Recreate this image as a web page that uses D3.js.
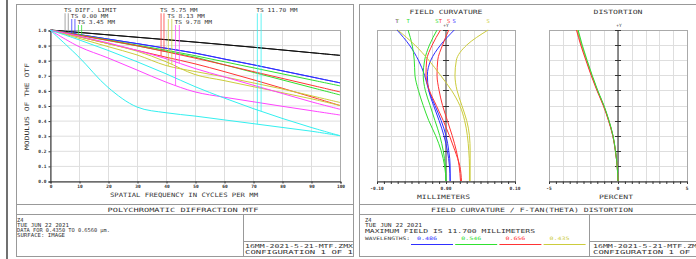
<!DOCTYPE html>
<html>
<head>
<meta charset="utf-8">
<script src="https://cdn.jsdelivr.net/npm/d3@7"></script>
<style>
  body { margin: 0; background: #fff; }
  text { font-family: "DejaVu Sans Mono", "Liberation Mono", monospace; fill: #333; }
</style>
</head>
<body>
<div id="chart"></div>
<script>
// ---- MTF data (cycles/mm vs modulus) ----
const mtfFreq = [0, 10, 20, 30, 40, 50, 60, 70, 80, 90, 100];
const mtfDiff = [1, 0.984, 0.968, 0.952, 0.936, 0.92, 0.903, 0.886, 0.868, 0.85, 0.832];
const mtf000T = [1, 0.97, 0.94, 0.91, 0.879, 0.847, 0.808, 0.77, 0.73, 0.69, 0.65];
const mtf000S = [1, 0.97, 0.94, 0.91, 0.879, 0.847, 0.808, 0.77, 0.73, 0.69, 0.65];
const mtf345T = [1, 0.968, 0.935, 0.90, 0.866, 0.83, 0.79, 0.75, 0.71, 0.67, 0.63];
const mtf345S = [1, 0.965, 0.93, 0.895, 0.858, 0.82, 0.77, 0.72, 0.67, 0.62, 0.57];
const mtf575T = [1, 0.955, 0.91, 0.865, 0.82, 0.776, 0.725, 0.671, 0.615, 0.558, 0.50];
const mtf575S = [1, 0.966, 0.932, 0.896, 0.856, 0.814, 0.77, 0.725, 0.68, 0.635, 0.59];
const mtf813T = [1, 0.945, 0.89, 0.835, 0.765, 0.725, 0.69, 0.65, 0.61, 0.565, 0.52];
const mtf813S = [1, 0.955, 0.91, 0.86, 0.79, 0.705, 0.665, 0.625, 0.585, 0.545, 0.50];
const mtf978T = [1, 0.89, 0.815, 0.735, 0.655, 0.59, 0.555, 0.525, 0.495, 0.466, 0.437];
const mtf978S = [1, 0.96, 0.915, 0.865, 0.81, 0.745, 0.69, 0.635, 0.58, 0.525, 0.475];
const mtf1170T = [1, 0.82, 0.62, 0.49, 0.452, 0.43, 0.405, 0.38, 0.355, 0.33, 0.30];
const mtf1170S = [1, 0.935, 0.865, 0.79, 0.71, 0.625, 0.55, 0.48, 0.415, 0.355, 0.30];
const mtfLabels = ["TS DIFF. LIMIT", "TS 0.00 MM", "TS 3.45 MM", "TS 5.75 MM", "TS 8.13 MM", "TS 9.78 MM", "TS 11.70 MM"];
const mtfLeaderFreq = [[5.2, 6.3], [7.5, 8.6], [9.8, 10.9], [38.3, 39.3], [40.8, 42.0], [43.3, 44.6], [71.5, 72.8]];
const mtfYTicks = [0, 0.1, 0.2, 0.3, 0.4, 0.5, 0.6, 0.7, 0.8, 0.9, 1.0];
const mtfXTicks = [0, 10, 20, 30, 40, 50, 60, 70, 80, 90, 100];

// ---- field curvature (mm) and distortion (%) vs field height ----
const fieldY = [0, 1.17, 2.34, 3.51, 4.68, 5.85, 7.02, 8.19, 9.36, 10.53, 11.7];
const fcBlueT = [0.006, 0.006, 0.004, 0.000, -0.007, -0.016, -0.025, -0.031, -0.040, -0.053, -0.071];
const fcBlueS = [0.006, 0.005, 0.002, -0.003, -0.010, -0.018, -0.025, -0.027, -0.022, -0.008, 0.012];
const fcGreenT = [0.000, -0.002, -0.007, -0.015, -0.025, -0.033, -0.040, -0.045, -0.046, -0.049, -0.055];
const fcGreenS = [0.000, -0.001, -0.004, -0.009, -0.016, -0.023, -0.030, -0.033, -0.031, -0.024, -0.013];
const fcRedT = [0.0225, 0.020, 0.013, 0.005, -0.004, -0.014, -0.024, -0.029, -0.028, -0.020, -0.008];
const fcRedS = [0.021, 0.019, 0.015, 0.009, 0.002, -0.005, -0.010, -0.013, -0.012, -0.005, 0.004];
const fcYellowT = [0.034, 0.034, 0.033, 0.031, 0.027, 0.020, 0.008, -0.008, -0.025, -0.045, -0.070];
const fcYellowS = [0.035, 0.035, 0.035, 0.034, 0.030, 0.023, 0.016, 0.013, 0.015, 0.030, 0.061];
const distBlue = [0, -0.06, -0.19, -0.37, -0.67, -1.04, -1.50, -1.91, -2.29, -2.65, -2.95];
const distYellow = [0, -0.06, -0.19, -0.37, -0.67, -1.04, -1.50, -1.91, -2.29, -2.65, -2.95];
const distRed = [0, -0.06, -0.19, -0.38, -0.69, -1.07, -1.53, -1.95, -2.33, -2.70, -3.01];
const distGreen = [0, -0.06, -0.18, -0.36, -0.65, -1.02, -1.47, -1.87, -2.24, -2.59, -2.89];
const wavelengths = ["0.486", "0.546", "0.656", "0.435"];
const fcTickLabels = ["-0.10", "0.00", "0.10"];
const distTickLabels = ["-5", "0", "5"];

const C = {blue: "#2f2fff", green: "#30e030", red: "#ff3434", yellow: "#cccc3c",
           magenta: "#ff44ff", cyan: "#33f0f0", black: "#111"};

const svg = d3.select("#chart").append("svg")
    .attr("width", 696).attr("height", 259);

function txt(g, str, x, y, o) {
    o = o || {};
    const t = g.append("text").attr("x", x).attr("y", y)
        .attr("font-size", o.size || 5.6)
        .attr("text-anchor", o.anchor || "start")
        .text(str);
    if (o.width) t.attr("textLength", o.width).attr("lengthAdjust", "spacingAndGlyphs");
    if (o.fill) t.style("fill", o.fill);
    if (o.bold) t.attr("font-weight", "bold");
    if (o.rotate) t.attr("transform", `rotate(${o.rotate},${x},${y})`);
    return t;
}
function hline(g, x1, x2, y, col, w) {
    g.append("line").attr("x1", x1).attr("x2", x2).attr("y1", y).attr("y2", y)
        .attr("stroke", col || "#999").attr("stroke-width", w || 1);
}
function vline(g, x, y1, y2, col, w) {
    g.append("line").attr("x1", x).attr("x2", x).attr("y1", y1).attr("y2", y2)
        .attr("stroke", col || "#999").attr("stroke-width", w || 1);
}
function interp(xs, ys, x) {
    let i = 0;
    while (i < xs.length - 2 && x > xs[i + 1]) i++;
    const t = (x - xs[i]) / (xs[i + 1] - xs[i]);
    return ys[i] + t * (ys[i + 1] - ys[i]);
}

// ---- frames ----
vline(svg, 7, 0, 259, "#111", 1.2);
svg.append("rect").attr("x", 16.5).attr("y", 4.5).attr("width", 337).attr("height", 252)
    .attr("fill", "none").attr("stroke", "#999");
svg.append("rect").attr("x", 359.5).attr("y", 4.5).attr("width", 345).attr("height", 252)
    .attr("fill", "none").attr("stroke", "#999");

// ================= MTF =================
const mx = d3.scaleLinear().domain([0, 100]).range([50, 340]);
const my = d3.scaleLinear().domain([0, 1]).range([181, 30]);
const gm = svg.append("g");

mtfXTicks.forEach(v => vline(gm, mx(v) + 0.5, 30, 181, "#dedede"));
mtfYTicks.forEach(v => hline(gm, 50, 340, my(v) + 0.5, "#dedede"));
gm.append("rect").attr("x", 50.5).attr("y", 30.5).attr("width", 290).attr("height", 151)
    .attr("fill", "none").attr("stroke", "#aaa");

const yAx = gm.append("g").attr("transform", "translate(50.5,0.5)")
    .call(d3.axisLeft(my).tickValues(mtfYTicks).tickSize(2).tickFormat(d3.format(".1f")));
const xAx = gm.append("g").attr("transform", "translate(0.5,181.5)")
    .call(d3.axisBottom(mx).tickValues(mtfXTicks).tickSize(2));
[yAx, xAx].forEach(a => {
    a.select(".domain").attr("stroke", "#333");
    a.selectAll(".tick line").attr("stroke", "#333");
    a.selectAll("text").attr("font-size", 4.5).attr("font-weight", "bold")
        .attr("font-family", "DejaVu Sans Mono").style("fill", "#333");
});
yAx.selectAll("text").attr("x", -4);
xAx.selectAll("text").attr("y", 3);

const mtfSeries = [
    {t: mtfDiff, s: mtfDiff, color: C.black},
    {t: mtf000T, s: mtf000S, color: C.blue},
    {t: mtf345T, s: mtf345S, color: C.green},
    {t: mtf575T, s: mtf575S, color: C.red},
    {t: mtf813T, s: mtf813S, color: C.yellow},
    {t: mtf978T, s: mtf978S, color: C.magenta},
    {t: mtf1170T, s: mtf1170S, color: C.cyan}
];
const mLine = d3.line().x((d, i) => mx(mtfFreq[i])).y(d => my(d)).curve(d3.curveCatmullRom);
mtfSeries.forEach(s => {
    [s.t, s.s].forEach(vals => {
        gm.append("path").datum(vals).attr("d", mLine)
            .attr("fill", "none").attr("stroke", s.color).attr("stroke-width", 1);
    });
});

// field labels with leader lines
const rowBase = [12.3, 18, 24];
mtfSeries.forEach((s, i) => {
    const row = i % 3;
    const f = mtfLeaderFreq[i];
    const lc = i === 0 ? "#888" : s.color;
    [s.t, s.s].forEach((vals, k) => {
        gm.append("line")
            .attr("x1", mx(f[k])).attr("x2", mx(f[k]))
            .attr("y1", rowBase[row] + 1).attr("y2", my(interp(mtfFreq, vals, f[k])))
            .attr("stroke", lc).attr("stroke-width", 1).attr("opacity", 0.75);
    });
    txt(gm, mtfLabels[i], mx(f[0]) - 1, rowBase[row],
        {size: 5.5, width: mtfLabels[i].length * 3.75});
});

txt(gm, "SPATIAL FREQUENCY IN CYCLES PER MM", 184, 196.5, {size: 6, anchor: "middle", width: 148});
txt(gm, "MODULUS OF THE OTF", 29, 106.5, {size: 6, anchor: "middle", width: 87, rotate: -90});

// bottom boxes (left)
hline(svg, 16, 354, 204.5);
hline(svg, 16, 354, 214.5);
txt(svg, "POLYCHROMATIC DIFFRACTION MTF", 183, 211.8, {size: 5.8, anchor: "middle", width: 151});
txt(svg, "Z4", 17, 222, {size: 5.4});
txt(svg, "TUE JUN 22 2021", 17, 227, {size: 5.4, width: 52});
txt(svg, "DATA FOR 0.4350 TO 0.6560 \u00b5m.", 17, 232, {size: 5.4, width: 93});
txt(svg, "SURFACE: IMAGE", 17, 237, {size: 5.4, width: 48});
vline(svg, 243.5, 214.5, 256.5);
hline(svg, 243.5, 354, 241.5);
txt(svg, "16MM-2021-5-21-MTF.ZMX", 245, 247.5, {size: 5.4, width: 108});
txt(svg, "CONFIGURATION 1 OF 1", 245, 254, {size: 5.4, width: 108});

// ================= FIELD CURVATURE =================
const fx = d3.scaleLinear().domain([-0.1, 0.1]).range([377, 515]);
const fy = d3.scaleLinear().domain([0, 11.7]).range([181, 30]);
const gf = svg.append("g");
d3.range(11).forEach(i => {
    const v = -0.1 + i * 0.02;
    vline(gf, Math.round(fx(v)) + 0.5, 30, 181, "#dedede");
    hline(gf, 377, 515, Math.round(fy(i * 1.17)) + 0.5, "#dedede");
});
gf.append("rect").attr("x", 377.5).attr("y", 30.5).attr("width", 138).attr("height", 151)
    .attr("fill", "none").attr("stroke", "#aaa");
const fAx = gf.append("g").attr("transform", "translate(0,181.5)")
    .call(d3.axisBottom(fx).ticks(20).tickSize(2.5).tickFormat(""));
fAx.select(".domain").attr("stroke", "#333");
fAx.selectAll(".tick line").attr("stroke", "#333");
fcTickLabels.forEach(l => txt(gf, l, fx(+l), 190, {size: 4.5, anchor: "middle", bold: true}));
vline(gf, fx(0), 30, 181, "#999", 2);
d3.range(1, 11).forEach(i => hline(gf, fx(0) - 3, fx(0) + 3, Math.round(fy(i * 1.17)) + 0.5, "#333"));
txt(gf, "+Y", fx(0), 26.5, {size: 4.5, anchor: "middle"});

const fcSeries = [
    {t: fcBlueT, s: fcBlueS, color: C.blue},
    {t: fcGreenT, s: fcGreenS, color: C.green},
    {t: fcRedT, s: fcRedS, color: C.red},
    {t: fcYellowT, s: fcYellowS, color: C.yellow}
];
const fLine = d3.line().x(d => fx(d)).y((d, i) => fy(fieldY[i])).curve(d3.curveMonotoneY);
fcSeries.forEach(s => {
    [s.t, s.s].forEach(vals => {
        gf.append("path").datum(vals).attr("d", fLine)
            .attr("fill", "none").attr("stroke", s.color).attr("stroke-width", 1);
    });
});
fcSeries.forEach(s => {
    txt(gf, "T", fx(s.t[s.t.length - 1]), 22.5, {size: 5.5, anchor: "middle", fill: s.color});
    txt(gf, "S", fx(s.s[s.s.length - 1]), 22.5, {size: 5.5, anchor: "middle", fill: s.color});
});
txt(gf, "FIELD CURVATURE", 446, 13.5, {size: 5.8, anchor: "middle", width: 73});
txt(gf, "MILLIMETERS", 443.5, 198.5, {size: 6, anchor: "middle", width: 53});

// ================= DISTORTION =================
const dx = d3.scaleLinear().domain([-5, 5]).range([549, 687]);
const gd = svg.append("g");
d3.range(11).forEach(i => {
    vline(gd, Math.round(dx(-5 + i)) + 0.5, 30, 181, "#dedede");
    hline(gd, 549, 687, Math.round(fy(i * 1.17)) + 0.5, "#dedede");
});
gd.append("rect").attr("x", 549.5).attr("y", 30.5).attr("width", 138).attr("height", 151)
    .attr("fill", "none").attr("stroke", "#aaa");
const dAx = gd.append("g").attr("transform", "translate(0,181.5)")
    .call(d3.axisBottom(dx).ticks(20).tickSize(2.5).tickFormat(""));
dAx.select(".domain").attr("stroke", "#333");
dAx.selectAll(".tick line").attr("stroke", "#333");
distTickLabels.forEach(l => txt(gd, l, dx(+l), 190, {size: 4.5, anchor: "middle", bold: true}));
vline(gd, dx(0), 30, 181, "#555", 1.3);
d3.range(1, 11).forEach(i => hline(gd, dx(0) - 3, dx(0) + 3, Math.round(fy(i * 1.17)) + 0.5, "#333"));
txt(gd, "+Y", dx(0) + 1, 26.5, {size: 4.5, anchor: "middle"});

const distSeries = [
    {v: distBlue, color: C.blue},
    {v: distYellow, color: C.yellow},
    {v: distRed, color: C.red},
    {v: distGreen, color: C.green}
];
const dLine = d3.line().x(d => dx(d)).y((d, i) => fy(fieldY[i])).curve(d3.curveMonotoneY);
distSeries.forEach(s => {
    gd.append("path").datum(s.v).attr("d", dLine)
        .attr("fill", "none").attr("stroke", s.color).attr("stroke-width", 1);
});
txt(gd, "DISTORTION", 618, 13.5, {size: 5.8, anchor: "middle", width: 49});
txt(gd, "PERCENT", 616, 198.5, {size: 6, anchor: "middle", width: 34});

// bottom boxes (right)
hline(svg, 359, 700, 204.5);
hline(svg, 359, 700, 214.5);
txt(svg, "FIELD CURVATURE / F-TAN(THETA) DISTORTION", 532, 211.8, {size: 5.8, anchor: "middle", width: 202});
txt(svg, "Z4", 365, 222, {size: 5.4});
txt(svg, "TUE JUN 22 2021", 365, 227, {size: 5.4, width: 57});
txt(svg, "MAXIMUM FIELD IS 11.700 MILLIMETERS", 365, 233, {size: 5.4, width: 170});
txt(svg, "WAVELENGTHS:", 365, 239.5, {size: 4.6, width: 45});
const wlColors = [C.blue, C.green, C.red, C.yellow];
wavelengths.forEach((w, i) => {
    const x0 = 411 + i * 44.2;
    txt(svg, w, x0 + 16, 239.5, {size: 4.6, anchor: "middle", fill: wlColors[i], width: 20});
    hline(svg, x0, x0 + 42, 244.5, wlColors[i]);
});
vline(svg, 589.5, 214.5, 256.5);
hline(svg, 589.5, 700, 241.5);
txt(svg, "16MM-2021-5-21-MTF.ZMX", 593, 247.5, {size: 5.4, width: 109});
txt(svg, "CONFIGURATION 1 OF 1", 593, 254, {size: 5.4, width: 108});
</script>
</body>
</html>
